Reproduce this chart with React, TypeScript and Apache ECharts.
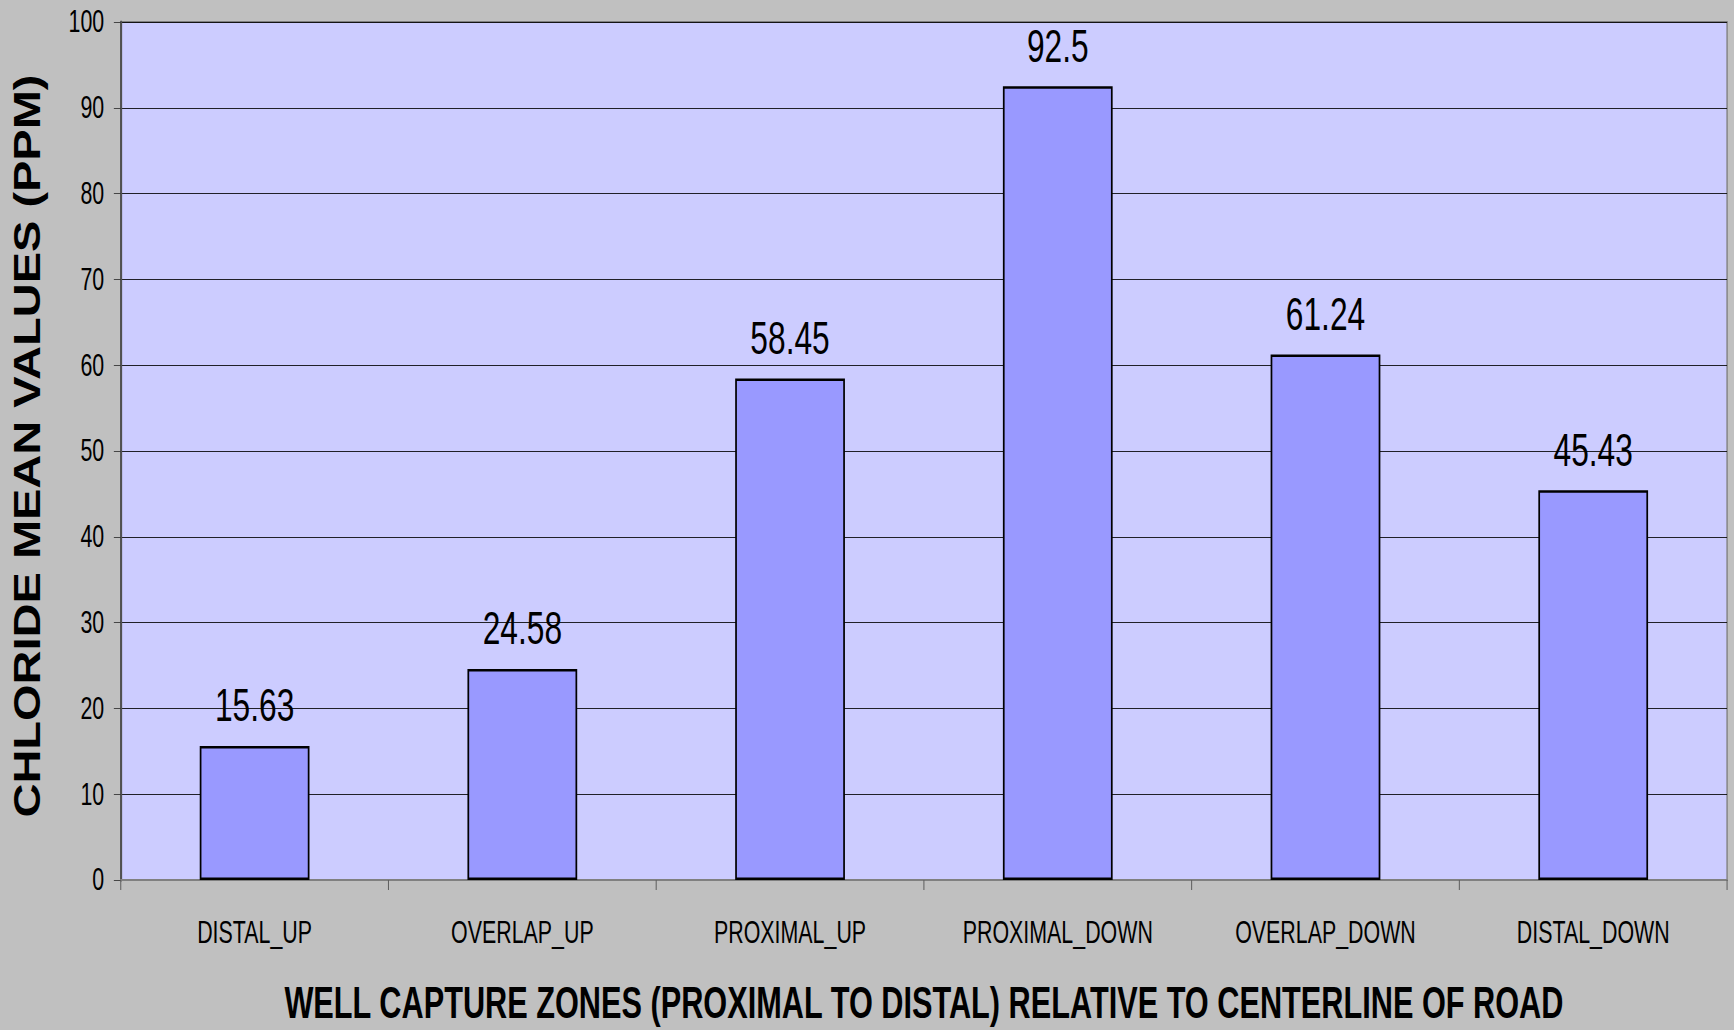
import React, { useEffect, useRef } from "react";
import * as echarts from "echarts";

const categories = ["DISTAL_UP", "OVERLAP_UP", "PROXIMAL_UP", "PROXIMAL_DOWN", "OVERLAP_DOWN", "DISTAL_DOWN"];
const chlorideMeans = [15.63, 24.58, 58.45, 92.5, 61.24, 45.43];
const yTitle = "CHLORIDE MEAN VALUES (PPM)";
const xTitle = "WELL CAPTURE ZONES (PROXIMAL TO DISTAL) RELATIVE TO CENTERLINE OF ROAD";

const FONT = "'Liberation Sans', Arial, sans-serif";
const W = 1734;
const H = 1030;
const SX = 0.69; // horizontal condensing of the reference picture
const IW = Math.round(W / SX);

export default function App() {
  const ref = useRef<HTMLDivElement>(null);
  useEffect(() => {
    document.body.style.margin = "0";
    const chart = echarts.init(ref.current!, undefined, { renderer: "svg" });
    chart.setOption({
      animation: false,
      backgroundColor: "#c0c0c0",
      grid: {
        left: Math.round(121 / SX),
        right: Math.round(7 / SX),
        top: 22,
        bottom: 150,
        containLabel: false,
        outerBoundsMode: "none",
        show: true,
        backgroundColor: "#ccccff",
        borderColor: "#808080",
        borderWidth: 2,
      },
      xAxis: {
        type: "category",
        data: categories,
        boundaryGap: true,
        axisLine: { lineStyle: { color: "#808080", width: 2 } },
        axisTick: { show: true, length: 10, alignWithLabel: false, lineStyle: { color: "#606060", width: 1.5 } },
        axisLabel: { color: "#000", fontFamily: FONT, fontSize: 31, margin: 37, interval: 0 },
        name: xTitle,
        nameLocation: "middle",
        nameGap: 100,
        nameTextStyle: { color: "#000", fontFamily: FONT, fontSize: 44.5, fontWeight: "bold", lineHeight: 44 },
      },
      yAxis: {
        type: "value",
        min: 0,
        max: 100,
        interval: 10,
        axisLine: { show: true, lineStyle: { color: "#505050", width: 3 } },
        axisTick: { show: true, length: 10, lineStyle: { color: "#303030", width: 1 } },
        axisLabel: { color: "#000", fontFamily: FONT, fontSize: 31, margin: 24 },
        splitLine: { show: true, lineStyle: { color: "#000", width: 1 } },
      },
      graphic: [
        {
          type: "text",
          x: Math.round(27 / SX),
          y: 446,
          rotation: Math.PI / 2,
          scaleY: 1.14,
          style: {
            text: yTitle,
            fill: "#000",
            font: `bold 47px ${FONT}`,
            align: "center",
            verticalAlign: "middle",
          },
        },
      ],
      series: [
        {
          type: "bar",
          data: chlorideMeans,
          barWidth: "41%",
          itemStyle: { color: "#9999ff", borderColor: "#000", borderWidth: 2.5 },
          label: {
            show: true,
            position: "top",
            distance: 18,
            color: "#000",
            fontFamily: FONT,
            fontSize: 46,
          },
        },
      ],
    });
    return () => chart.dispose();
  }, []);
  return (
    <div style={{ width: W, height: H, overflow: "hidden", background: "#c0c0c0" }}>
      <div
        ref={ref}
        style={{ width: IW, height: H, transform: `scaleX(${SX})`, transformOrigin: "0 0" }}
      />
    </div>
  );
}
